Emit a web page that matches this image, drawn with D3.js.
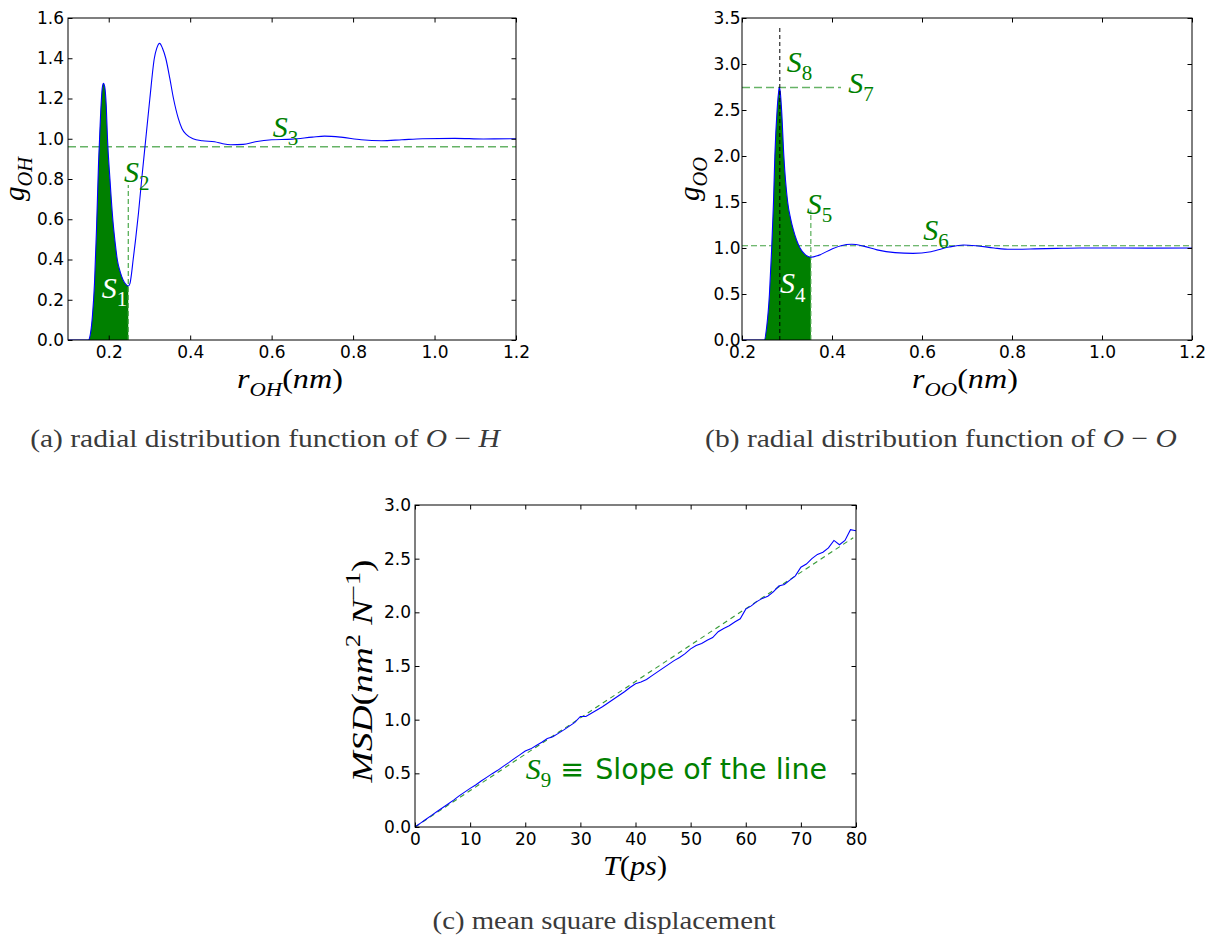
<!DOCTYPE html>
<html>
<head>
<meta charset="utf-8">
<script src="https://cdn.jsdelivr.net/npm/d3@7"></script>
<style>
  html, body { margin: 0; padding: 0; background: #fff; }
  svg { display: block; }
</style>
</head>
<body>
<script>
// ---------------- DATA ----------------
// (a) O-H radial distribution function
const ohR = [0.10, 0.14, 0.150, 0.155, 0.160, 0.165, 0.170, 0.175, 0.180, 0.184, 0.187, 0.190, 0.194, 0.197, 0.203, 0.210, 0.216, 0.221, 0.228, 0.235, 0.242, 0.248, 0.252, 0.256, 0.260, 0.266, 0.273, 0.281, 0.291, 0.301, 0.312, 0.318, 0.325, 0.332, 0.340, 0.350, 0.359, 0.371, 0.380, 0.391, 0.407, 0.43, 0.46, 0.48, 0.50, 0.53, 0.56, 0.60, 0.65, 0.70, 0.73, 0.77, 0.82, 0.87, 0.92, 0.97, 1.05, 1.12, 1.20];
const ohG = [0, 0, 0, 0.03, 0.12, 0.28, 0.55, 0.88, 1.12, 1.25, 1.275, 1.26, 1.16, 1.0, 0.8, 0.6, 0.48, 0.40, 0.34, 0.30, 0.277, 0.268, 0.28, 0.33, 0.40, 0.50, 0.63, 0.80, 1.0, 1.2, 1.4, 1.45, 1.474, 1.45, 1.40, 1.30, 1.20, 1.10, 1.05, 1.02, 1.0, 0.99, 0.985, 0.975, 0.97, 0.972, 0.985, 0.995, 0.998, 1.008, 1.013, 1.008, 0.995, 0.99, 0.995, 1.0, 1.002, 0.999, 1.0];
const ohFillEnd = 0.248;   // S1 / S2
const ohLevel = 0.96;      // S3

// (b) O-O radial distribution function
const ooR = [0.20, 0.24, 0.2496, 0.255, 0.261, 0.266, 0.270, 0.273, 0.278, 0.281, 0.283, 0.285, 0.288, 0.293, 0.3015, 0.308, 0.314, 0.321, 0.329, 0.340, 0.353, 0.37, 0.40, 0.42, 0.444, 0.47, 0.50, 0.54, 0.58, 0.62, 0.66, 0.692, 0.72, 0.76, 0.796, 0.85, 0.90, 0.95, 1.0, 1.1, 1.2];
const ooG = [0, 0, 0, 0.15, 0.5, 1.0, 1.5, 2.0, 2.5, 2.68, 2.747, 2.70, 2.5, 2.0, 1.5, 1.32, 1.2, 1.09, 1.0, 0.93, 0.899, 0.92, 0.99, 1.025, 1.04, 1.02, 0.98, 0.95, 0.942, 0.96, 1.01, 1.033, 1.025, 1.0, 0.986, 0.99, 0.996, 1.0, 1.0, 0.999, 1.0];
const ooFillEnd = 0.353;   // S4 / S5
const ooPeakR = 0.284;     // S8
const ooPeakG = 2.745;     // S7
const ooLevel = 1.025;     // S6

// (c) mean square displacement
const msdT = [0,1,2,3,4,5,6,7,8,9,10,11,12,13,14,15,16,17,18,19,20,21,22,23,24,25,26,27,28,29,30,31,32,33,34,35,36,37,38,39,40,41,42,43,44,45,46,47,48,49,50,51,52,53,54,55,56,57,58,59,60,61,62,63,64,65,66,67,68,69,70,71,72,73,74,75,76,77,78,79,80];
const msdV = [0.000,0.036,0.072,0.108,0.145,0.180,0.215,0.250,0.290,0.325,0.360,0.392,0.428,0.462,0.497,0.528,0.565,0.600,0.637,0.672,0.708,0.728,0.760,0.790,0.825,0.840,0.872,0.905,0.940,0.975,1.030,1.030,1.060,1.090,1.120,1.155,1.190,1.225,1.260,1.300,1.335,1.350,1.375,1.410,1.445,1.480,1.515,1.550,1.580,1.615,1.660,1.690,1.710,1.740,1.765,1.820,1.850,1.875,1.910,1.940,2.030,2.060,2.100,2.130,2.150,2.190,2.245,2.260,2.300,2.340,2.420,2.450,2.500,2.540,2.560,2.600,2.670,2.630,2.670,2.770,2.760];
const fitT = [0, 79.5];
const fitV = [0, 2.695];

// tick values
const ohXTicks = [0.2, 0.4, 0.6, 0.8, 1.0, 1.2];
const ohYTicks = [0.0, 0.2, 0.4, 0.6, 0.8, 1.0, 1.2, 1.4, 1.6];
const ooXTicks = [0.2, 0.4, 0.6, 0.8, 1.0, 1.2];
const ooYTicks = [0.0, 0.5, 1.0, 1.5, 2.0, 2.5, 3.0, 3.5];
const msdXTicks = [0, 10, 20, 30, 40, 50, 60, 70, 80];
const msdYTicks = [0.0, 0.5, 1.0, 1.5, 2.0, 2.5, 3.0];

// ---------------- DRAWING ----------------
const W = 1211, H = 936;
const SERIF = "'Liberation Serif', serif";
const SANS = "'DejaVu Sans', sans-serif";
const BLUE = "#0000ff", GREEN = "#008000";

const svg = d3.select("body").append("svg")
  .attr("width", W).attr("height", H).attr("viewBox", `0 0 ${W} ${H}`);
svg.append("rect").attr("width", W).attr("height", H).attr("fill", "#fff");
const defs = svg.append("defs");

function rich(textSel, parts, size) {
  let shift = 0;
  parts.forEach(p => {
    const [txt, kind, fam, fsz, dx] = p;
    let target = 0, fs = size, italic = true;
    if (kind === "sub") { target = 0.28 * size; fs = 0.7 * size; }
    else if (kind === "subr") { target = 0.28 * size; fs = 0.7 * size; italic = false; }
    else if (kind === "sup") { target = -0.42 * size; fs = 0.7 * size; italic = false; }
    else if (kind === "r") { italic = false; }
    if (fsz) fs = fsz;
    const t = textSel.append("tspan").text(txt)
      .attr("dy", (target - shift).toFixed(2))
      .attr("font-size", fs)
      .attr("font-style", italic ? "italic" : "normal")
      .style("font-family", fam || SERIF);
    if (dx) t.attr("dx", dx);
    shift = target;
  });
}

function label(parent, o) {
  const g = parent.append("g");
  const t = g.append("text")
    .attr("text-anchor", o.anchor || "middle")
    .attr("fill", o.fill || "#000");
  rich(t, o.parts, o.size);
  let sx = 1;
  if (o.width) sx = o.width / t.node().getComputedTextLength();
  g.attr("transform", `translate(${o.x},${o.y}) rotate(${o.rotate || 0}) scale(${sx},1)`);
  return g;
}

function panel(cfg) {
  const x = d3.scaleLinear().domain(cfg.xd).range([cfg.l, cfg.r]);
  const y = d3.scaleLinear().domain(cfg.yd).range([cfg.b, cfg.t]);
  const g = svg.append("g");
  const cid = "clip-" + cfg.id;
  defs.append("clipPath").attr("id", cid).append("rect")
    .attr("x", cfg.l).attr("y", cfg.t).attr("width", cfg.r - cfg.l).attr("height", cfg.b - cfg.t);
  const plot = g.append("g").attr("clip-path", `url(#${cid})`);

  const axB = g.append("g").attr("transform", `translate(0,${cfg.b})`)
    .call(d3.axisBottom(x).tickValues(cfg.xt).tickFormat(cfg.xfmt).tickSizeInner(-4.5).tickSizeOuter(0).tickPadding(6));
  const axL = g.append("g").attr("transform", `translate(${cfg.l},0)`)
    .call(d3.axisLeft(y).tickValues(cfg.yt).tickFormat(cfg.yfmt).tickSizeInner(-4.5).tickSizeOuter(0).tickPadding(cfg.ypad));
  const axT = g.append("g").attr("transform", `translate(0,${cfg.t})`)
    .call(d3.axisTop(x).tickValues(cfg.xt).tickFormat("").tickSizeInner(-4.5).tickSizeOuter(0));
  const axR = g.append("g").attr("transform", `translate(${cfg.r},0)`)
    .call(d3.axisRight(y).tickValues(cfg.yt).tickFormat("").tickSizeInner(-4.5).tickSizeOuter(0));
  [axB, axL, axT, axR].forEach(a => {
    a.select(".domain").remove();
    a.selectAll("line").attr("stroke", "#000").attr("stroke-width", 1);
    a.selectAll("text").style("font-family", SANS).attr("font-size", 17).attr("fill", "#000");
  });
  g.append("rect").attr("x", cfg.l).attr("y", cfg.t)
    .attr("width", cfg.r - cfg.l).attr("height", cfg.b - cfg.t)
    .attr("fill", "none").attr("stroke", "#000").attr("stroke-width", 1);
  return { x, y, g, plot };
}

// ---------- Panel (a) ----------
{
  const P = panel({ id: "a", l: 68, r: 516, t: 18, b: 340, xd: [0.1, 1.2], yd: [0, 1.6],
    xt: ohXTicks, yt: ohYTicks, xfmt: d3.format(".1f"), yfmt: d3.format(".1f"), ypad: 4 });
  const pts = ohR.map((r, i) => [r, ohG[i]]);
  const fillPts = pts.filter(p => p[0] <= ohFillEnd + 1e-9);
  P.plot.append("path").datum(fillPts)
    .attr("d", d3.area().x(d => P.x(d[0])).y0(P.y(0)).y1(d => P.y(d[1])).curve(d3.curveMonotoneX))
    .attr("fill", GREEN);
  P.plot.append("line")
    .attr("x1", P.x(0.1)).attr("x2", P.x(1.2)).attr("y1", P.y(ohLevel)).attr("y2", P.y(ohLevel))
    .attr("stroke", GREEN).attr("stroke-opacity", 0.6).attr("stroke-width", 1.6).attr("stroke-dasharray", "8,4");
  P.plot.append("line")
    .attr("x1", P.x(ohFillEnd)).attr("x2", P.x(ohFillEnd)).attr("y1", P.y(0)).attr("y2", P.y(0.77))
    .attr("stroke", "#4aa84a").attr("stroke-width", 1.2).attr("stroke-dasharray", "5,3");
  P.plot.append("path").datum(pts)
    .attr("d", d3.line().x(d => P.x(d[0])).y(d => P.y(d[1])).curve(d3.curveMonotoneX))
    .attr("fill", "none").attr("stroke", BLUE).attr("stroke-width", 1.1);
  label(P.g, { x: P.x(0.1826), y: P.y(0.209), anchor: "start", size: 30, fill: "#fff", parts: [["S", "i"], ["1", "subr"]] });
  label(P.g, { x: P.x(0.2375), y: P.y(0.787), anchor: "start", size: 30, fill: GREEN, parts: [["S", "i"], ["2", "subr"]] });
  label(P.g, { x: P.x(0.6026), y: P.y(1.01), anchor: "start", size: 30, fill: GREEN, parts: [["S", "i"], ["3", "subr"]] });
  label(svg, { x: 290, y: 388, size: 27, width: 106, parts: [["r", "i"], ["OH", "sub"], ["(", "r"], ["nm", "i"], [")", "r"]] });
  label(svg, { x: 24, y: 179, rotate: -90, size: 29, parts: [["g", "i"], ["OH", "sub"]] });
  label(svg, { x: 265, y: 447, size: 26, width: 470, fill: "#3a3a3a",
    parts: [["(a) radial distribution function of ", "r"], ["O", "i"], [" − ", "r"], ["H", "i"]] });
}

// ---------- Panel (b) ----------
{
  const P = panel({ id: "b", l: 742, r: 1192, t: 18, b: 340, xd: [0.2, 1.2], yd: [0, 3.5],
    xt: ooXTicks, yt: ooYTicks, xfmt: d3.format(".1f"), yfmt: d3.format(".1f"), ypad: 1.5 });
  const pts = ooR.map((r, i) => [r, ooG[i]]);
  const fillPts = pts.filter(p => p[0] <= ooFillEnd + 1e-9);
  P.plot.append("path").datum(fillPts)
    .attr("d", d3.area().x(d => P.x(d[0])).y0(P.y(0)).y1(d => P.y(d[1])).curve(d3.curveMonotoneX))
    .attr("fill", GREEN);
  P.plot.append("line")
    .attr("x1", P.x(0.2)).attr("x2", P.x(0.42)).attr("y1", P.y(ooPeakG)).attr("y2", P.y(ooPeakG))
    .attr("stroke", GREEN).attr("stroke-opacity", 0.6).attr("stroke-width", 1.6).attr("stroke-dasharray", "8,4");
  P.plot.append("line")
    .attr("x1", P.x(0.2)).attr("x2", P.x(1.2)).attr("y1", P.y(ooLevel)).attr("y2", P.y(ooLevel))
    .attr("stroke", GREEN).attr("stroke-opacity", 0.75).attr("stroke-width", 1.1).attr("stroke-dasharray", "6,3");
  P.plot.append("line")
    .attr("x1", P.x(ooFillEnd)).attr("x2", P.x(ooFillEnd)).attr("y1", P.y(0)).attr("y2", P.y(1.41))
    .attr("stroke", "#4aa84a").attr("stroke-width", 1.1).attr("stroke-dasharray", "5,3");
  P.plot.append("path").datum(pts)
    .attr("d", d3.line().x(d => P.x(d[0])).y(d => P.y(d[1])).curve(d3.curveMonotoneX))
    .attr("fill", "none").attr("stroke", BLUE).attr("stroke-width", 1.1);
  P.plot.append("line")
    .attr("x1", P.x(ooPeakR)).attr("x2", P.x(ooPeakR)).attr("y1", P.y(0)).attr("y2", P.y(3.4))
    .attr("stroke", "#000").attr("stroke-width", 1).attr("stroke-dasharray", "4,3");
  label(P.g, { x: P.x(0.2844), y: P.y(0.507), anchor: "start", size: 30, fill: "#fff", parts: [["S", "i"], ["4", "subr"]] });
  label(P.g, { x: P.x(0.3437), y: P.y(1.37), anchor: "start", size: 30, fill: GREEN, parts: [["S", "i"], ["5", "subr"]] });
  label(P.g, { x: P.x(0.603), y: P.y(1.087), anchor: "start", size: 30, fill: GREEN, parts: [["S", "i"], ["6", "subr"]] });
  label(P.g, { x: P.x(0.4363), y: P.y(2.69), anchor: "start", size: 30, fill: GREEN, parts: [["S", "i"], ["7", "subr"]] });
  label(P.g, { x: P.x(0.2993), y: P.y(2.916), anchor: "start", size: 30, fill: GREEN, parts: [["S", "i"], ["8", "subr"]] });
  label(svg, { x: 965, y: 388, size: 27, width: 106, parts: [["r", "i"], ["OO", "sub"], ["(", "r"], ["nm", "i"], [")", "r"]] });
  label(svg, { x: 699, y: 179, rotate: -90, size: 29, parts: [["g", "i"], ["OO", "sub"]] });
  label(svg, { x: 941, y: 447, size: 26, width: 472, fill: "#3a3a3a",
    parts: [["(b) radial distribution function of ", "r"], ["O", "i"], [" − ", "r"], ["O", "i"]] });
}

// ---------- Panel (c) ----------
{
  const P = panel({ id: "c", l: 415, r: 856, t: 505, b: 827, xd: [0, 80], yd: [0, 3],
    xt: msdXTicks, yt: msdYTicks, xfmt: d3.format("d"), yfmt: d3.format(".1f"), ypad: 4 });
  const fit = fitT.map((t, i) => [t, fitV[i]]);
  P.plot.append("path").datum(fit)
    .attr("d", d3.line().x(d => P.x(d[0])).y(d => P.y(d[1])))
    .attr("fill", "none").attr("stroke", GREEN).attr("stroke-opacity", 0.8).attr("stroke-width", 1.1).attr("stroke-dasharray", "5,4");
  const pts = msdT.map((t, i) => [t, msdV[i]]);
  P.plot.append("path").datum(pts)
    .attr("d", d3.line().x(d => P.x(d[0])).y(d => P.y(d[1])))
    .attr("fill", "none").attr("stroke", BLUE).attr("stroke-width", 1.1);
  label(P.g, { x: P.x(20.1), y: P.y(0.447), anchor: "start", size: 30, fill: GREEN,
    parts: [["S", "i"], ["9", "subr"], ["≡", "r", SANS, 28.5, 9], ["Slope of the line", "r", SANS, 28.5, 11]] });
  label(svg, { x: 635, y: 875, size: 28, width: 64, parts: [["T", "i"], ["(", "r"], ["ps", "i"], [")", "r"]] });
  label(svg, { x: 372, y: 671, rotate: -90, size: 29, width: 223,
    parts: [["MSD", "i"], ["(", "r"], ["nm", "i"], ["2", "sup"], [" ", "r"], ["N", "i"], ["−1", "sup"], [")", "r"]] });
  label(svg, { x: 604, y: 929, size: 26, width: 343, fill: "#3a3a3a",
    parts: [["(c) mean square displacement", "r"]] });
}
</script>
</body>
</html>
